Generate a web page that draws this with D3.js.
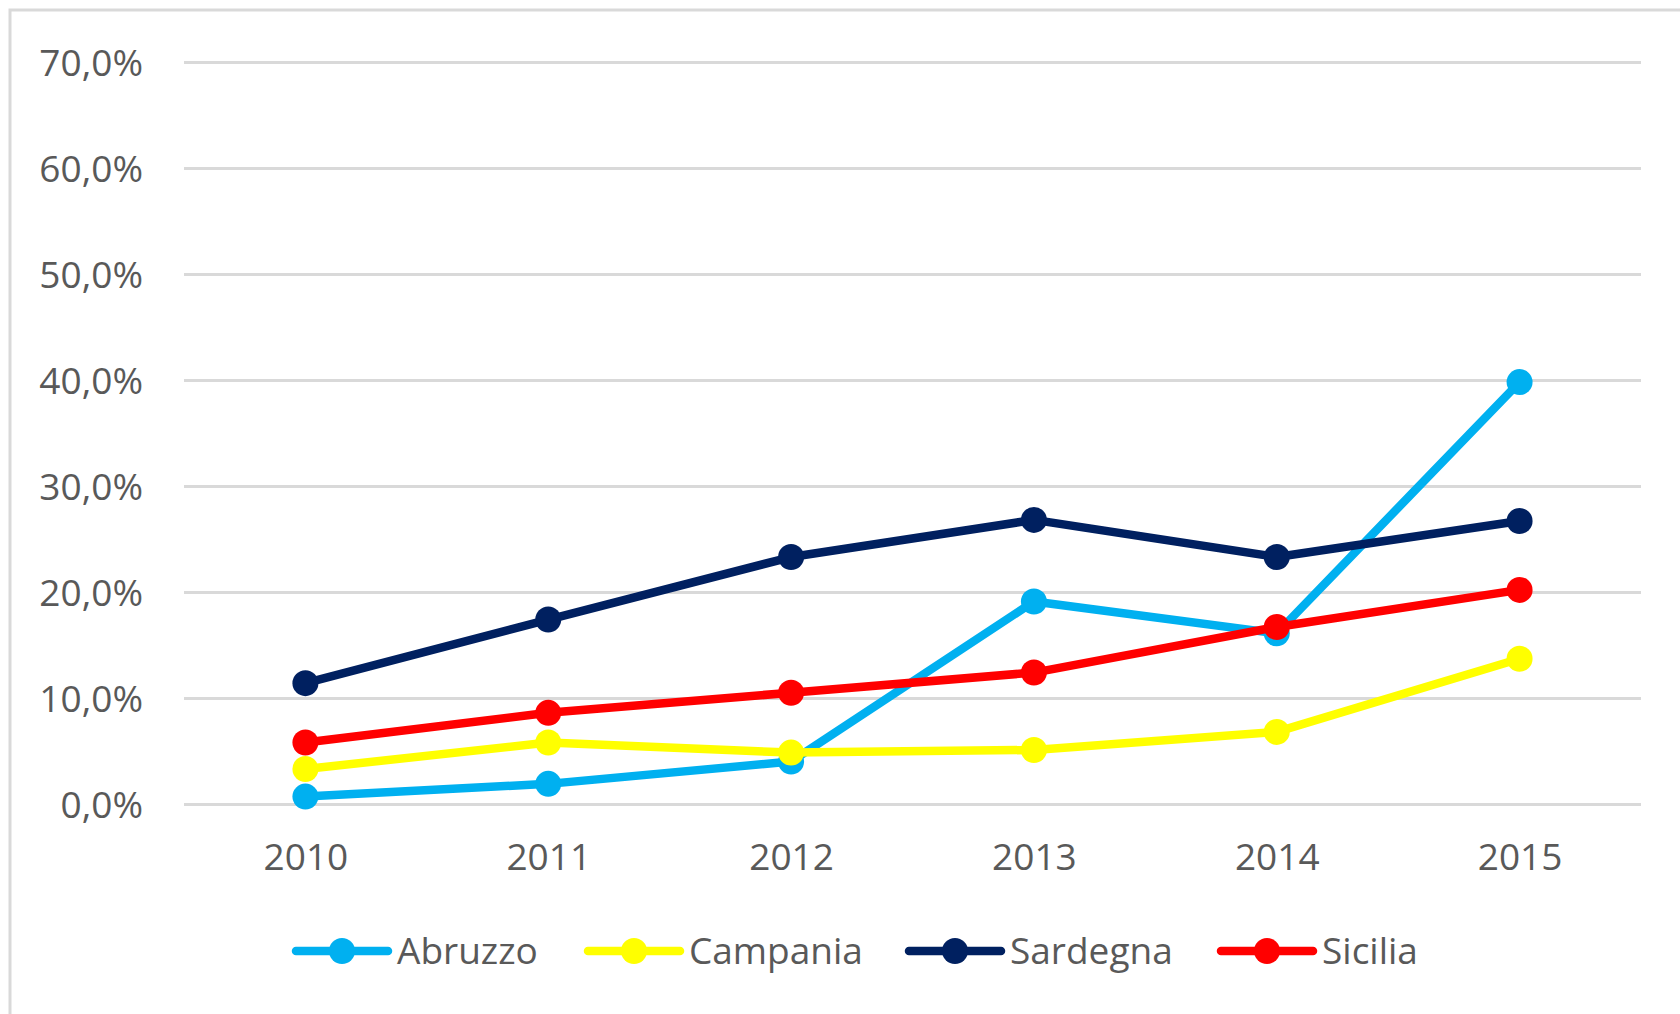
<!DOCTYPE html>
<html>
<head>
<meta charset="utf-8">
<script src="https://cdn.jsdelivr.net/npm/d3@7"></script>
<style>
  html, body { margin: 0; padding: 0; background: #fff; }
  svg { display: block; }
</style>
</head>
<body>
<svg id="chart" width="1680" height="1014"></svg>
<script>
// data
const years = ["2010", "2011", "2012", "2013", "2014", "2015"];
const yTicks = [0, 10, 20, 30, 40, 50, 60, 70];
const seriesNames = ["Abruzzo", "Campania", "Sardegna", "Sicilia"];
const seriesColors = ["#00B0F0", "#FFFF00", "#002060", "#FF0000"];
const abruzzo = [0.7, 1.9, 4.0, 19.1, 16.1, 39.8];
const campania = [3.3, 5.8, 4.85, 5.1, 6.8, 13.7];
const sardegna = [11.4, 17.4, 23.3, 26.8, 23.3, 26.7];
const sicilia = [5.8, 8.6, 10.5, 12.4, 16.7, 20.2];

const seriesValues = [abruzzo, campania, sardegna, sicilia];

const width = 1680;
const height = 1014;
const margin = { top: 62, right: 39, bottom: 210, left: 184 };
const textColor = "#595959";
const font = "'Open Sans', sans-serif";

const svg = d3.select("#chart");

// chart area border (right / bottom run off the page)
svg.append("rect")
  .attr("x", 10)
  .attr("y", 10)
  .attr("width", width + 20)
  .attr("height", height + 20)
  .attr("fill", "none")
  .attr("stroke", "#d9d9d9")
  .attr("stroke-width", 3);

// scales
const xScale = d3.scalePoint()
  .domain(years)
  .range([margin.left, width - margin.right])
  .padding(0.5);

const yScale = d3.scaleLinear()
  .domain([0, 70])
  .range([height - margin.bottom, margin.top]);

// gridlines + y labels
const yAxis = d3.axisLeft(yScale)
  .tickValues(yTicks)
  .tickSize(-(width - margin.right - margin.left))
  .tickPadding(41)
  .tickFormat(d => d3.format(".1f")(d).replace(".", ",") + "%");

const yG = svg.append("g")
  .attr("transform", `translate(${margin.left}, 0)`)
  .call(yAxis);
yG.select(".domain").remove();
yG.selectAll(".tick line")
  .attr("stroke", "#d9d9d9")
  .attr("stroke-width", 3);
yG.selectAll(".tick text")
  .attr("fill", textColor)
  .attr("font-family", font)
  .attr("font-size", 37)
  .attr("dy", "0.36em");

// x labels
const xAxis = d3.axisBottom(xScale).tickSize(0).tickPadding(40);
const xG = svg.append("g")
  .attr("transform", `translate(0, ${height - margin.bottom})`)
  .call(xAxis);
xG.select(".domain").remove();
xG.selectAll(".tick text")
  .attr("fill", textColor)
  .attr("font-family", font)
  .attr("font-size", 37);

// lines and markers
const line = d3.line()
  .x((d, i) => xScale(years[i]))
  .y(d => yScale(d));

seriesValues.forEach((vals, si) => {
  const g = svg.append("g");
  g.append("path")
    .datum(vals)
    .attr("d", line)
    .attr("fill", "none")
    .attr("stroke", seriesColors[si])
    .attr("stroke-width", 8.5)
    .attr("stroke-linejoin", "round");
  g.selectAll("circle")
    .data(vals)
    .join("circle")
    .attr("cx", (d, i) => xScale(years[i]))
    .attr("cy", d => yScale(d))
    .attr("r", 13)
    .attr("fill", seriesColors[si]);
});

// legend
const legendX = [296, 588, 909, 1221];
const legendY = 951;
const legend = svg.append("g");
seriesNames.forEach((name, i) => {
  const g = legend.append("g").attr("transform", `translate(${legendX[i]}, ${legendY})`);
  g.append("line")
    .attr("x1", 0).attr("x2", 92)
    .attr("stroke", seriesColors[i])
    .attr("stroke-width", 8.5)
    .attr("stroke-linecap", "round");
  g.append("circle")
    .attr("cx", 46)
    .attr("r", 13)
    .attr("fill", seriesColors[i]);
  g.append("text")
    .attr("x", 101)
    .attr("dy", "0.36em")
    .attr("fill", textColor)
    .attr("font-family", font)
    .attr("font-size", 37)
    .text(name);
});
</script>
</body>
</html>
